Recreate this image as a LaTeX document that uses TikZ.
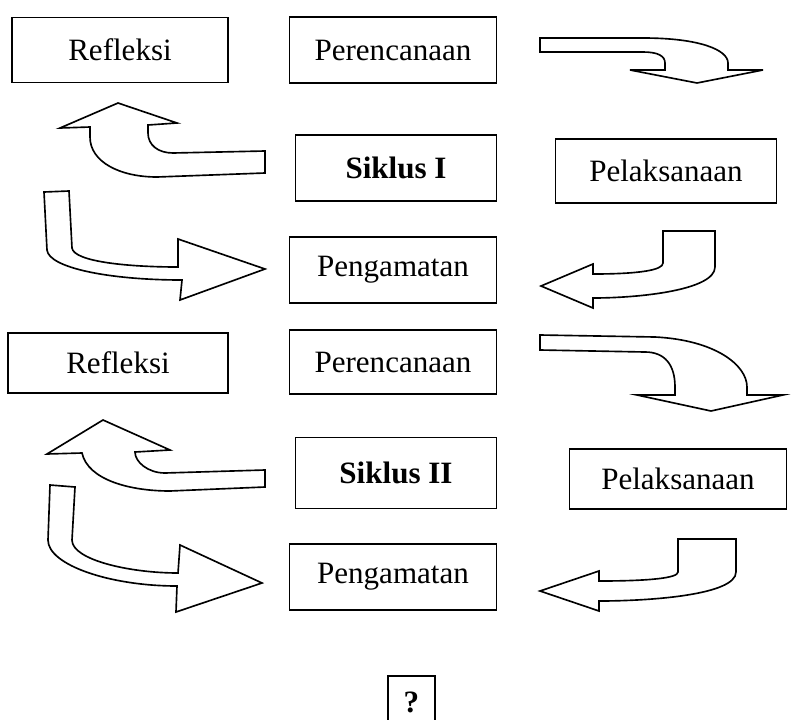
\documentclass[tikz,border=0pt]{standalone}
\usepackage{fontspec}
\setmainfont{Liberation Serif}
\usepackage{tikz}
\usetikzlibrary{positioning}

\begin{document}
\begin{tikzpicture}[x=0.03cm, y=-0.03cm, font=\fontsize{26.5}{30}\selectfont,
		box/.style={draw, line width=1.6pt, inner sep=0pt},
		blok/.style={draw, line width=1.4pt, line join=miter}]
			\useasboundingbox (0,0) rectangle (803,720);
			% siklus I
			\node[box, minimum width=6.48cm, minimum height=1.95cm] at (120,50) (refl1) {Refleksi};
			\node[box, minimum width=6.21cm, minimum height=2.0cm] at (393,50) (renc1) {Perencanaan};
			\node[box, minimum width=6.03cm, minimum height=2.0cm] at (396,168) (siklus1) {\textbf{Siklus I}};
			\node[box, minimum width=6.63cm, minimum height=1.9cm] at (666,171) (laks1) {Pelaksanaan};
			\node[box, minimum width=6.21cm, minimum height=1.98cm] at (393,270) (amat1) {Pengamatan};
			% siklus II
			\node[box, minimum width=6.6cm, minimum height=1.8cm] at (118,363) (refl2) {Refleksi};
			\node[box, minimum width=6.21cm, minimum height=1.9cm] at (393,362) (renc2) {Perencanaan};
			\node[box, minimum width=6.03cm, minimum height=2.13cm] at (396,473) (siklus2) {\textbf{Siklus II}};
			\node[box, minimum width=6.51cm, minimum height=1.8cm] at (678,479) (laks2) {Pelaksanaan};
			\node[box, minimum width=6.21cm, minimum height=1.98cm] at (393,577) (amat2) {Pengamatan};
			\node[box, minimum width=1.41cm, minimum height=1.56cm] at (411.5,702) (tanya) {\textbf{?}};

			% panah siklus I
			\draw[blok] (540,38) -- (643,38) .. controls (700,38) and (728,50) .. (728,63) -- (728,70) -- (763,70)
				-- (697,83) -- (630,70) -- (665,70) -- (665,63) .. controls (665,56) and (658,52) .. (643,52) -- (540,52) -- cycle;
			\draw[blok] (715,231) -- (715,267) .. controls (715,290) and (640,298) .. (593,298) -- (593,308) -- (541,286)
				-- (593,264) -- (593,274) .. controls (640,274) and (663,270) .. (663,263) -- (663,231) -- cycle;
			\draw[blok] (44,192) -- (69,191) -- (72,248) .. controls (74,262) and (130,267) .. (178,267) -- (178,239)
				-- (265,269) -- (180,300) -- (182,280) .. controls (110,280) and (49,268) .. (47,250) -- cycle;
			\draw[blok] (265,151) -- (173,153) .. controls (158,153) and (148,145) .. (148,133) -- (148,125) -- (177,123)
				-- (118,103) -- (60,128) -- (90,127) -- (90,137) .. controls (90,162) and (120,177) .. (157,177) -- (265,173) -- cycle;

			% panah siklus II
			\draw[blok] (540,335) -- (655,337) .. controls (715,340) and (747,365) .. (747,387) -- (747,395) -- (783,395)
				-- (711,411) -- (637,395) -- (675,395) -- (675,387) .. controls (675,365) and (665,352) .. (645,352) -- (540,350) -- cycle;
			\draw[blok] (736,539) -- (736,572) .. controls (736,595) and (650,601) .. (599,601) -- (599,611) -- (540,591)
				-- (599,571) -- (599,581) .. controls (650,581) and (678,578) .. (678,572) -- (678,539) -- cycle;
			\draw[blok] (50,485) -- (75,487) -- (72,540) .. controls (72,560) and (130,573) .. (178,573) -- (180,545)
				-- (262,583) -- (176,612) -- (177,586) .. controls (110,586) and (48,565) .. (48,540) -- cycle;
			\draw[blok] (265,470) -- (165,473) .. controls (148,473) and (135,462) .. (135,452) -- (170,450)
				-- (103,420) -- (47,454) -- (82,453) .. controls (88,480) and (130,491) .. (170,491) -- (265,487) -- cycle;
		\end{tikzpicture}
\end{document}
